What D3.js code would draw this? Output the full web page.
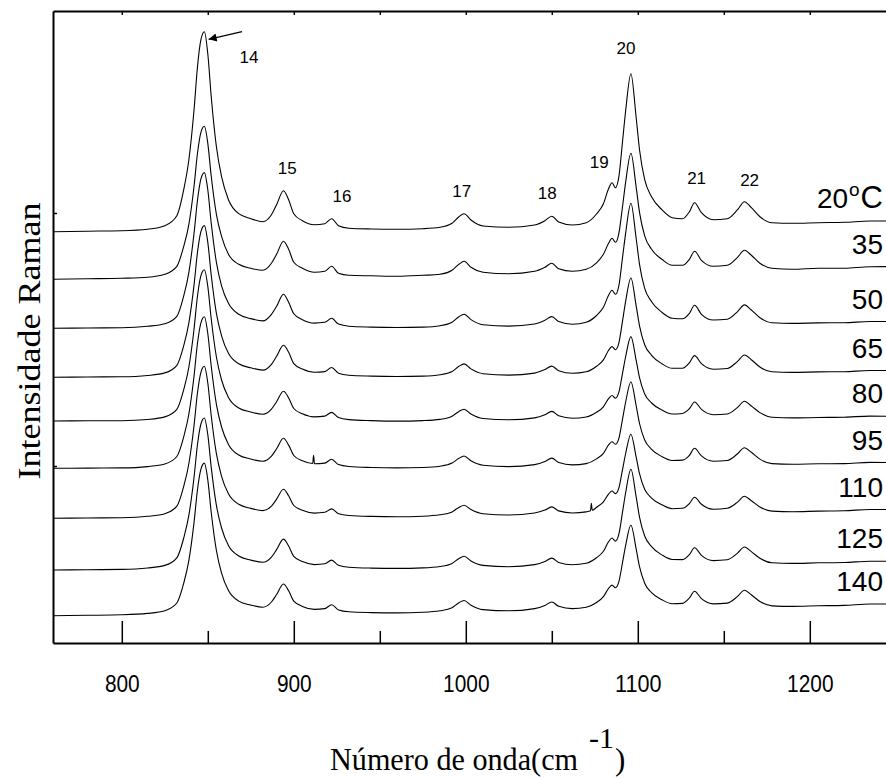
<!DOCTYPE html>
<html><head><meta charset="utf-8">
<script src="https://cdnjs.cloudflare.com/ajax/libs/d3/7.8.5/d3.min.js"></script>
<style>body{margin:0;background:#fff}svg{display:block}</style>
</head><body><svg id="c" width="886" height="778"></svg>
<script>
// Raman shift grid (cm^-1)
const wavenumbers = [760,780,800,815,825,832,836,839,842,844,846,848,850,852,855,858,862,868,875,882,887,890,894,897,900,905,912,918,922,926,932,945,960,975,985,992,996,999,1003,1010,1025,1040,1046,1050,1054,1062,1070,1076,1080,1083,1085,1087,1089,1091,1093,1096,1099,1101,1104,1108,1114,1120,1126,1130,1133,1137,1144,1152,1158,1162,1166,1171,1178,1190,1205,1220,1235,1250];
const temperatures = ["20","35","50","65","80","95","110","125","140"];
// vertical offset of each spectrum (intensity units)
const offsets = [411.3,363.7,314.7,265.7,222,174.7,124.7,73,27.3];
const s20  = [0,0.5,1,2.5,6,16,42,72,122,165,192,200,178,135,85,55,32,18,13,10,17,27,41,32,18,11,7,8,13,6,3.5,2.7,2.4,3,4.4,8.4,15,18,11.7,5.7,4.4,6.7,11,15.5,9.7,6.7,9,17.7,28,43,49,44,55,88,122,158,115,82,52,35,22,14,13,20,29,19,12,13,22,30,24,15,9,8.4,9,9.4,10.7,10.7];
const s35  = [0,0.5,1,2,5,13,33,55,93,126,147,153,136,103,65,43,25,15,11,9,16,25,38,30,17,11,7,8,13,6,4,3.5,3,4,5,9,15,18,12,7,5.5,8,12,16,10.5,8,10,16.5,25,36,41,37,46,71,98,126,93,67,43.5,30,20,14,14,20,28,19,13,14,22,29,24,16,11,10,11,11,12.6,12.7];
const s50  = [0,0.3,0.5,2,4.5,12,32.5,56,95,128,149.5,155.7,138.5,105,66,42.5,25,14,9.7,7.4,14,22,34,26,14.5,8.6,5.2,6,10,4.2,2.1,1.2,0.8,1.2,2.6,6,11.6,14,8.7,3.6,2.2,4.3,8,11.7,6.7,4.1,6,12.8,21,33,38,34,42.6,69,96,125,90.6,64,40,26.6,16,10,9.5,15,23,14,8.3,9,16.7,23.4,18.3,10.6,5.5,4.9,5.4,5.6,6.8,6.7];
const s65  = [0,0.3,0.5,1.8,4.4,12,31.7,54.5,92.4,125,145.7,151.7,135,102,64,41.5,24,13.5,9.5,7.2,13,21,32,25,13.7,8.2,5,5.7,9.8,4.1,2.1,1.2,0.8,1.2,2.6,5.8,11,13.4,8.4,3.6,2.2,4.2,7.7,11.2,6.6,4,5.5,11,17.4,27,30.7,27.6,34.4,55,76.7,99.3,72,51.5,32.6,22,13.6,9,9,14.5,21.7,13.6,8.1,8.8,16,22.3,17.6,10.3,5.5,4.9,5.4,5.6,6.8,6.7];
const s80  = [0,0.2,0.3,1.5,4.1,11.6,31.3,54,92,125,145.3,151.3,134.6,102,64,41,23.6,13,9,6.7,11.8,19.3,29.8,23,12.5,7.2,4.1,4.9,8.6,3.4,1.4,0.4,-0.1,0.4,1.6,4.7,9.6,11.8,7,2.5,1.2,3.1,6.2,9.6,5.2,2.8,4,8.7,14.2,22.3,25.5,22.8,28.8,46.6,65,84.4,61.2,43.3,27,18,11,7,7.5,12.3,19,11.6,6.3,7,13.6,19.7,15,8.4,3.8,3.1,3.5,3.8,4.9,4.7];
const s95  = [0,0.2,0.4,1.7,4.3,11.8,31.5,54.3,92.3,125,145.5,151.5,134.8,102,64,41.3,23.9,13.3,9.3,7,12.1,19.6,30,23.2,12.8,7.5,4.5,5.2,9,3.7,1.8,0.8,0.4,0.8,2.1,5.2,10,12.3,7.5,3.1,1.7,3.7,6.8,10.2,5.8,3.4,4.7,9.4,15,23.4,26.6,24,30,48,66.8,86.6,63,44.8,28.3,19,11.7,7.8,8.2,13,20,12.4,7.1,7.8,14.5,20.5,16,9.2,4.7,4,4.5,4.7,5.9,5.7];
const s110 = [0,0.3,0.6,2,4.6,12.2,32,54.8,92.8,125.5,146,152,135.3,102.6,64.6,42,24.5,14,9.9,7.7,12.2,19.2,29,22.5,12.8,8,5.2,6,9.4,4.5,2.8,1.9,1.6,2.1,3.5,6.4,10.9,13.1,8.7,4.5,3.3,5.3,8.2,11.4,7.4,5.3,6.4,11,16.4,24.2,27.3,24.7,30.5,47.7,65.3,84.1,61.7,44.6,29,20.2,13.5,9.6,10,14.8,21,14,9,10,16.2,22,17.6,11.3,7.2,6.6,7.2,7.5,8.8,8.7];
const s125 = [0,0.3,0.6,2,4.6,12.2,32,54.8,92.8,125.5,146,152,135.3,102.6,64.6,42,24.5,14,9.9,7.7,12.9,20.4,30.9,24,13.6,8.4,5.4,6.2,9.9,4.7,2.8,1.9,1.6,2.1,3.5,6.6,11.5,13.7,9,4.6,3.3,5.4,8.5,11.9,7.6,5.3,6.7,12.2,18.7,28.2,32,28.9,35.8,56.6,78,100.7,73.6,52.9,34,23.3,15.1,10.5,10.4,15.4,22.2,14.7,9.4,10.2,16.9,23,18.4,11.7,7.2,6.6,7.2,7.5,8.8,8.7];
const s140 = [0,0.4,0.9,2.3,5,12.7,32.5,55.3,93.3,126,146.6,152.6,135.9,103.2,65.2,42.5,25.1,14.6,10.6,8.5,13.7,21.2,31.7,24.9,14.5,9.3,6.3,7.1,10.9,5.7,3.9,3.1,2.8,3.4,4.9,8,13,15.2,10.5,6.1,4.9,7.1,10.3,13.7,9.4,7.1,8.4,13.2,19,27.3,30.6,27.9,34,52.1,70.9,90.7,67.1,49,32.5,23.1,16,12,12.3,17.7,24.5,17,11.8,12.6,19.3,25.4,20.9,14.2,9.8,9.3,9.9,10.3,11.7,11.7];
const seriesValues = [s20,s35,s50,s65,s80,s95,s110,s125,s140];
// extra read points (spikes)
const extraPoints = [[],[],[],[],[],[[911,4.8],[911.5,13]],[[1072.5,7.5],[1073,15],[1073.5,8]],[],[]];
// axis ticks
const majorTicks = [800,900,1000,1100,1200];
const minorTicks = [850,950,1050,1150];
const topTicks = [800,850,900,950,1000,1050,1100,1150,1200,1250];
const leftTicks = [177,430];
// peak annotations
const peakNames = ["14","15","16","17","18","19","20","21","22"];
const peakX = [874,896.2,928,997.6,1047.4,1077.6,1093.1,1134.2,1165];
const peakY = [586,475,447,452,450,481,595,465,463];
const arrowFrom = [869.9,611.3], arrowTo = [850.5,603.7];

const SANS = "'Liberation Sans', Arial, sans-serif";
const SERIF = "'Liberation Serif', 'Times New Roman', serif";
const svg = d3.select("#c");
const x = d3.scaleLinear().domain([760,1250]).range([53,895.8]);
const y = d3.scaleLinear().domain([0,632]).range([643,11]);

const line = d3.line().x(d=>x(d[0])).y(d=>y(d[1])).curve(d3.curveMonotoneX);
seriesValues.forEach((vals,i)=>{
  const pts = wavenumbers.map((w,j)=>[w, vals[j]]).concat(extraPoints[i]).sort((a,b)=>a[0]-b[0])
    .map(p=>[p[0], p[1]+offsets[i]]);
  svg.append("path").attr("d",line(pts)).attr("fill","none").attr("stroke","#000").attr("stroke-width",1.1);
});

// axes
const gB = svg.append("g").attr("transform",`translate(0,${y(0)})`)
  .call(d3.axisBottom(x).tickValues(majorTicks).tickSize(-22).tickSizeOuter(0).tickPadding(32).tickFormat(d3.format("d")));
svg.append("g").attr("transform",`translate(0,${y(0)})`)
  .call(d3.axisBottom(x).tickValues(minorTicks).tickSize(-12).tickSizeOuter(0).tickFormat(""))
  .select(".domain").remove();
svg.append("g").attr("transform",`translate(0,${y(632)})`)
  .call(d3.axisTop(x).tickValues(topTicks).tickSize(-4).tickSizeOuter(0).tickFormat(""));
svg.append("g").attr("transform",`translate(${x(760)},0)`)
  .call(d3.axisLeft(y).tickValues(leftTicks).tickSize(-4).tickSizeOuter(0).tickFormat(""));
svg.selectAll(".domain").attr("stroke","#000").attr("stroke-width",2);
svg.selectAll(".tick line").attr("stroke","#000").attr("stroke-width",1.5);
gB.selectAll(".tick text").attr("font-family",SANS).attr("font-size",24).attr("fill","#000")
  .attr("textLength",d=>String(d).length*11.6).attr("lengthAdjust","spacingAndGlyphs");

// peak labels
peakNames.forEach((n,i)=>{
  svg.append("text").attr("x",x(peakX[i])).attr("y",y(peakY[i])).attr("dy","0.35em")
    .attr("text-anchor","middle").attr("font-family",SANS)
    .attr("font-size",17).text(n);
});
// arrow
svg.append("defs").append("marker").attr("id","ah").attr("viewBox","0 0 10 10").attr("refX",10).attr("refY",5)
  .attr("markerWidth",12).attr("markerHeight",8).attr("markerUnits","userSpaceOnUse").attr("orient","auto")
  .append("path").attr("d","M0,0L10,5L0,10z").attr("fill","#000");
svg.append("line").attr("x1",x(arrowFrom[0])).attr("y1",y(arrowFrom[1])).attr("x2",x(arrowTo[0])).attr("y2",y(arrowTo[1]))
  .attr("stroke","#000").attr("stroke-width",1.2).attr("marker-end","url(#ah)");

// temperature labels
temperatures.forEach((t,i)=>{
  const last = seriesValues[i][seriesValues[i].length-1] + offsets[i];
  const ty = y(last) - 13;
  const tx = svg.append("text").attr("x",883).attr("y",ty).attr("text-anchor","end")
    .attr("font-family",SANS).attr("font-size",28).attr("fill","#000");
  if(i===0){
    tx.append("tspan").text(t);
    tx.append("tspan").attr("dy",-12).attr("dx",1).attr("font-size",19).text("o");
    tx.append("tspan").attr("dy",12).attr("dx",1).attr("font-size",31).text("C");
  } else tx.text(t);
});

// axis titles
svg.append("text").attr("x",330).attr("y",770).attr("font-family",SERIF)
  .attr("font-size",31).attr("textLength",248).attr("lengthAdjust","spacingAndGlyphs").text("Número de onda(cm");
svg.append("text").attr("x",589).attr("y",748).attr("font-family",SERIF)
  .attr("font-size",30).text("-1");
svg.append("text").attr("x",615).attr("y",770).attr("font-family",SERIF)
  .attr("font-size",31).text(")");
svg.append("text").attr("transform","translate(40,341) rotate(-90)").attr("text-anchor","middle")
  .attr("font-family",SERIF).attr("font-size",32)
  .attr("textLength",277).attr("lengthAdjust","spacingAndGlyphs").text("Intensidade Raman");
</script></body></html>
